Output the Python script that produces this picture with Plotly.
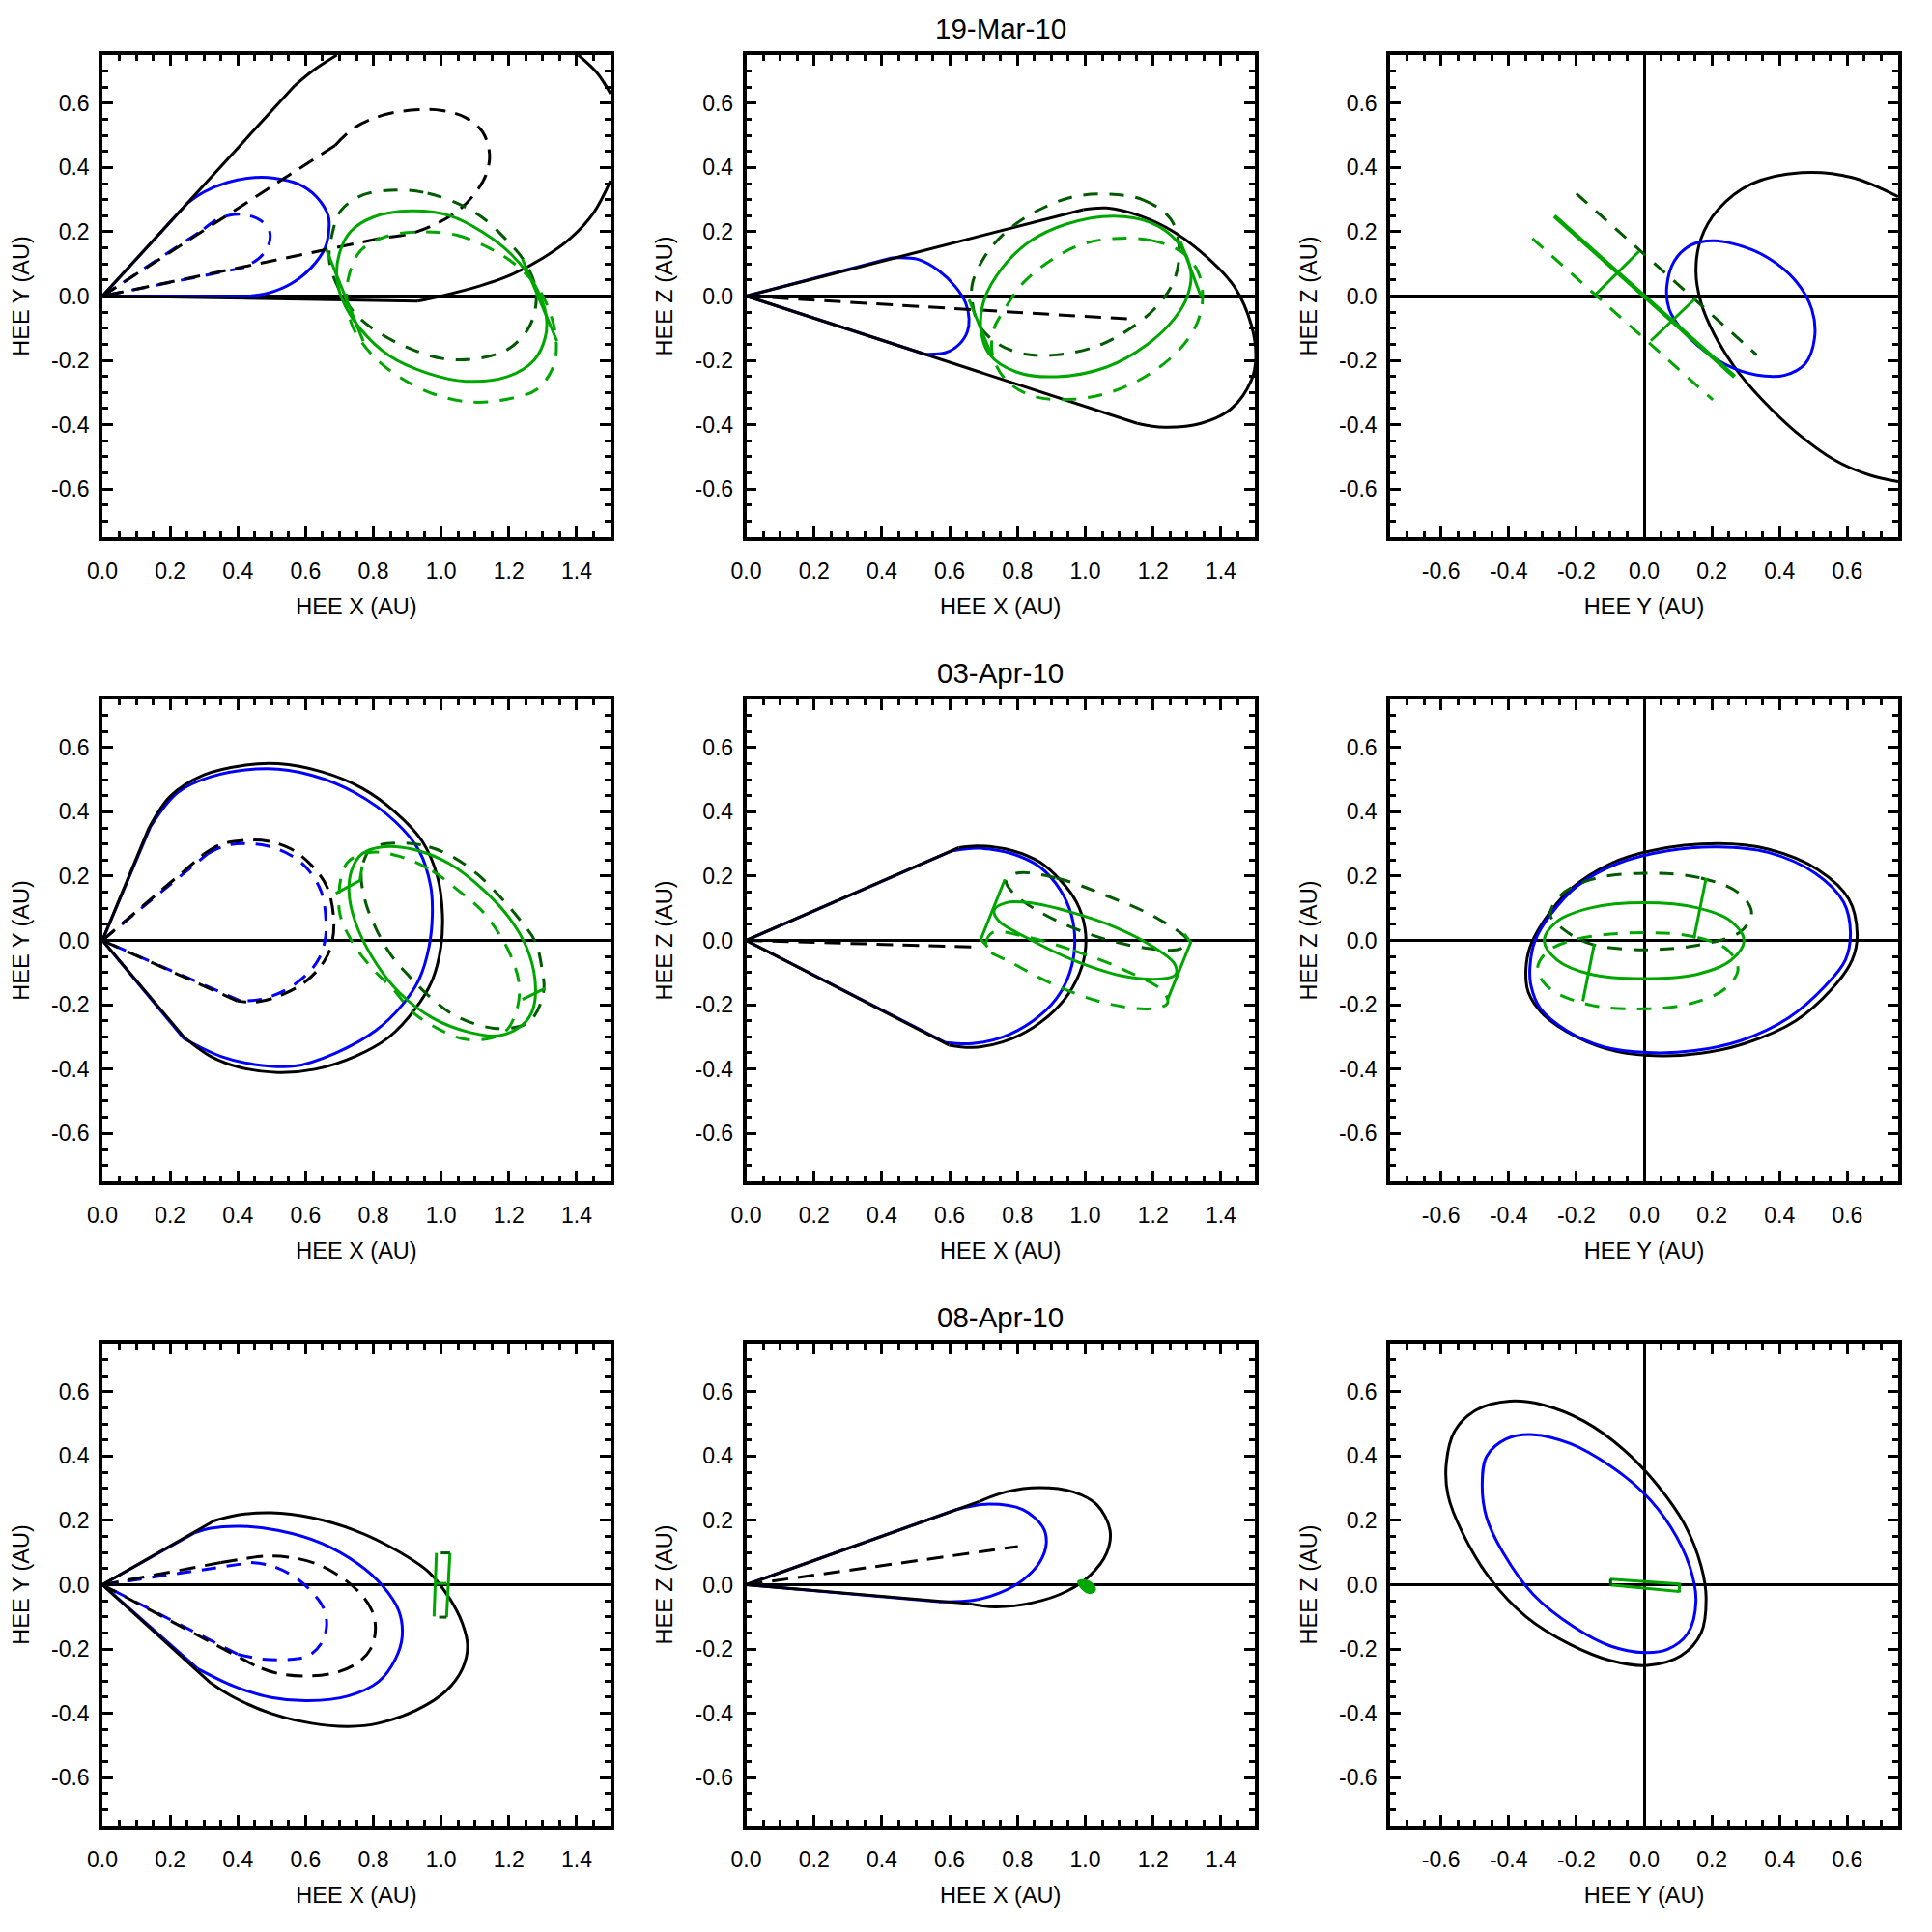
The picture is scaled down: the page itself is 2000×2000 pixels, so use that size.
import plotly.graph_objects as go

# ---------------- tick labels ----------------
x_pos_ticks = [0.0, 0.2, 0.4, 0.6, 0.8, 1.0, 1.2, 1.4]
x_pos_labels = ["0.0", "0.2", "0.4", "0.6", "0.8", "1.0", "1.2", "1.4"]
sym_ticks = [-0.6, -0.4, -0.2, 0.0, 0.2, 0.4, 0.6]
sym_labels = ["-0.6", "-0.4", "-0.2", "0.0", "0.2", "0.4", "0.6"]
dates = ["19-Mar-10", "03-Apr-10", "08-Apr-10"]
xtitles = ["HEE X (AU)", "HEE X (AU)", "HEE Y (AU)"]
ytitles = ["HEE Y (AU)", "HEE Z (AU)", "HEE Z (AU)"]

# Cone outlines: straight flank from the Sun, None, cap arc, None, straight flank back.

# ---------------- panel 1 : 19-Mar-10, X-Y ----------------
p1_blk_x = [0, 0.568, None, 0.568, 0.622, 0.692, None, 1.405, 1.46, 1.5, None,
            1.5, 1.45, 1.381, 1.301, 1.212, 1.113, 1.004, 0.93, None, 0.93, 0]
p1_blk_y = [0, 0.655, None, 0.655, 0.702, 0.75, None, 0.75, 0.695, 0.63, None,
            0.359, 0.259, 0.179, 0.119, 0.069, 0.031, 0.001, -0.0155, None, -0.0155, 0]
p1_bdash_x = [0, 0.687, None, 0.687, 0.746, 0.835, 0.934, 1.004, 1.073, 1.123, 1.143, 1.133,
              1.103, 1.054, 0.984, 0.915, 0.845, 0.816, None, 0.816, 0]
p1_bdash_y = [0, 0.469, None, 0.469, 0.525, 0.565, 0.58, 0.577, 0.555, 0.51, 0.44, 0.379,
              0.324, 0.269, 0.224, 0.196, 0.183, 0.179, None, 0.179, 0]
p1_blue_x = [0, 0.251, None, 0.251, 0.30, 0.37, 0.449, 0.508, 0.578, 0.632, 0.667, 0.669,
             0.657, 0.617, 0.558, 0.489, 0.429, None, 0.429, 0]
p1_blue_y = [0, 0.289, None, 0.289, 0.324, 0.354, 0.369, 0.367, 0.349, 0.309, 0.249, 0.209,
             0.149, 0.089, 0.039, 0.009, -0.001, None, -0.001, 0]
p1_bldash_x = [0, 0.300, None, 0.300, 0.340, 0.389, 0.429, 0.469, 0.494, 0.489, 0.464, 0.419, None, 0.419, 0]
p1_bldash_y = [0, 0.209, None, 0.209, 0.239, 0.254, 0.252, 0.234, 0.199, 0.154, 0.119, 0.089, None, 0.089, 0]
p1_grn_x = [0.912, 1.026, 1.121, 1.207, 1.274, 1.310, 1.307, 1.274, 1.198, 1.074, 0.960,
            0.846, 0.760, 0.708, 0.692, 0.699, 0.732, 0.798, 0.912]
p1_grn_y = [0.265, 0.250, 0.200, 0.130, 0.040, -0.060, -0.130, -0.200, -0.250, -0.265, -0.240,
            -0.185, -0.100, -0.010, 0.060, 0.130, 0.200, 0.245, 0.265]
p1_dkg_x = [0.874, 0.960, 1.055, 1.121, 1.188, 1.245, 1.278, 1.278, 1.255, 1.198, 1.103, 1.007,
            0.912, 0.818, 0.751, 0.699, 0.670, 0.680, 0.703, 0.770, 0.874]
p1_dkg_y = [0.330, 0.320, 0.285, 0.245, 0.180, 0.110, 0.030, -0.040, -0.105, -0.165, -0.195, -0.195,
            -0.165, -0.115, -0.060, 0.020, 0.110, 0.200, 0.265, 0.315, 0.330]
p1_ltg_x = [0.941, 1.045, 1.141, 1.217, 1.283, 1.321, 1.340, 1.331, 1.283, 1.198, 1.093, 0.979,
            0.874, 0.798, 0.741, 0.722, 0.727, 0.761, 0.836, 0.941]
p1_ltg_y = [0.200, 0.190, 0.150, 0.100, 0.030, -0.050, -0.140, -0.220, -0.290, -0.320, -0.330, -0.305,
            -0.250, -0.185, -0.100, -0.020, 0.060, 0.140, 0.185, 0.200]
p1_conn_x = [0.661, 0.770, None, 1.24, 1.342]
p1_conn_y = [0.145, -0.14, None, 0.115, -0.14]

# ---------------- panel 2 : 19-Mar-10, X-Z ----------------
p2_blk_x = [0, 0.994, None, 0.994, 1.063, 1.163, 1.262, 1.361, 1.440, 1.49, 1.503, 1.49, 1.43,
            1.341, 1.232, 1.153, None, 1.153, 0]
p2_blk_y = [0, 0.269, None, 0.269, 0.274, 0.249, 0.199, 0.119, 0.029, -0.091, -0.19, -0.261, -0.351,
            -0.396, -0.408, -0.396, None, -0.396, 0]
p2_bdash_x = [0, 1.123]
p2_bdash_y = [0, -0.071]
p2_blue_x = [0, 0.429, None, 0.429, 0.508, 0.568, 0.617, 0.647, 0.657, 0.652, 0.627, 0.588, 0.528, None, 0.528, 0]
p2_blue_y = [0, 0.119, None, 0.119, 0.114, 0.079, 0.029, -0.021, -0.071, -0.111, -0.151, -0.176, -0.181, None, -0.181, 0]
p2_grn_x = [1.083, 1.192, 1.272, 1.311, 1.301, 1.262, 1.182, 1.063, 0.915, 0.796, 0.717, 0.692,
            0.702, 0.756, 0.835, 0.944, 1.083]
p2_grn_y = [0.249, 0.229, 0.169, 0.079, -0.001, -0.071, -0.151, -0.221, -0.251, -0.236, -0.181, -0.101,
            -0.011, 0.089, 0.169, 0.224, 0.249]
p2_dkg_x = [1.073, 1.172, 1.252, 1.277, 1.262, 1.212, 1.133, 1.034, 0.915, 0.826, 0.746, 0.687,
            0.667, 0.667, 0.707, 0.776, 0.865, 0.964, 1.073]
p2_dkg_y = [0.317, 0.299, 0.239, 0.149, 0.049, -0.031, -0.101, -0.156, -0.183, -0.181, -0.151, -0.091,
            -0.021, 0.039, 0.129, 0.209, 0.269, 0.309, 0.317]
p2_ltg_x = [1.083, 1.192, 1.282, 1.331, 1.346, 1.331, 1.282, 1.192, 1.083, 0.964, 0.845, 0.766,
            0.726, 0.731, 0.756, 0.815, 0.895, 0.984, 1.083]
p2_ltg_y = [0.179, 0.174, 0.139, 0.079, -0.001, -0.081, -0.161, -0.241, -0.296, -0.321, -0.311, -0.261,
            -0.181, -0.101, -0.051, 0.039, 0.109, 0.159, 0.179]
p2_conn_x = [0.657, 0.726, None, 1.281, 1.341]
p2_conn_y = [-0.011, -0.191, None, 0.169, -0.001]

# ---------------- panel 3 : 19-Mar-10, Y-Z ----------------
p3_blk_x = [0.75, 0.614, 0.465, 0.317, 0.218, 0.168, 0.153, 0.168, 0.208, 0.267, 0.347, 0.446,
            0.564, 0.663, 0.75]
p3_blk_y = [0.309, 0.369, 0.384, 0.349, 0.269, 0.179, 0.079, -0.021, -0.121, -0.221, -0.321, -0.421,
            -0.511, -0.556, -0.577]
p3_blue_x = [0.203, 0.277, 0.366, 0.446, 0.495, 0.503, 0.475, 0.416, 0.356, 0.267, 0.178, 0.109,
             0.074, 0.067, 0.089, 0.139, 0.203]
p3_blue_y = [0.172, 0.159, 0.119, 0.049, -0.041, -0.131, -0.211, -0.246, -0.249, -0.226, -0.171, -0.101,
             -0.041, 0.029, 0.109, 0.159, 0.172]
p3_grn_x = [-0.265, 0.267]
p3_grn_y = [0.249, -0.251]
p3_dkg_x = [-0.2, 0.332]
p3_dkg_y = [0.319, -0.183]
p3_ltg_x = [-0.33, 0.203]
p3_ltg_y = [0.179, -0.323]
p3_conn_x = [-0.144, -0.015, None, 0.020, 0.153]
p3_conn_y = [0.004, 0.139, None, -0.139, -0.006]

# ---------------- panel 4 : 03-Apr-10, X-Y ----------------
p4_blk_x = [0, 0.137, None, 0.137, 0.201, 0.3, 0.419, 0.518, 0.647, 0.766, 0.865, 0.944, 0.989, 1.004,
            0.999, 0.975, 0.925, 0.846, 0.746, 0.627, 0.518, 0.409, 0.320, 0.241, None, 0.241, 0]
p4_blk_y = [0, 0.349, None, 0.349, 0.449, 0.515, 0.545, 0.550, 0.525, 0.474, 0.399, 0.309, 0.199, 0.079,
            -0.021, -0.121, -0.211, -0.301, -0.361, -0.401, -0.411, -0.396, -0.361, -0.301, None, -0.301, 0]
p4_blue_x = [0, 0.142, None, 0.142, 0.221, 0.32, 0.488, 0.617, 0.746, 0.865, 0.935, 0.969, 0.974, 0.964,
             0.935, 0.885, 0.806, 0.687, 0.568, 0.449, 0.350, 0.241, None, 0.241, 0]
p4_blue_y = [0, 0.354, None, 0.354, 0.459, 0.509, 0.534, 0.514, 0.459, 0.369, 0.279, 0.169, 0.079, -0.021,
             -0.121, -0.201, -0.281, -0.351, -0.391, -0.386, -0.361, -0.306, None, -0.306, 0]
p4_bdash_x = [0, 0.300, None, 0.300, 0.35, 0.419, 0.488, 0.558, 0.617, 0.662, 0.682, 0.679, 0.657, 0.608,
              0.538, 0.459, 0.399, None, 0.399, 0]
p4_bdash_y = [0, 0.269, None, 0.269, 0.299, 0.311, 0.309, 0.284, 0.234, 0.169, 0.079, -0.001, -0.061, -0.121,
              -0.166, -0.191, -0.189, None, -0.189, 0]
p4_bldash_x = [0, 0.310, None, 0.310, 0.36, 0.419, 0.488, 0.558, 0.608, 0.647, 0.660, 0.657, 0.637, 0.598,
               0.538, 0.469, 0.409, None, 0.409, 0]
p4_bldash_y = [0, 0.269, None, 0.269, 0.294, 0.301, 0.294, 0.264, 0.219, 0.149, 0.059, -0.001, -0.061, -0.111,
               -0.156, -0.183, -0.189, None, -0.189, 0]
p4_grn_x = [0.826, 0.915, 1.024, 1.123, 1.202, 1.252, 1.277, 1.272, 1.242, 1.172, 1.083, 0.974,
            0.875, 0.796, 0.746, 0.728, 0.736, 0.766, 0.826]
p4_grn_y = [0.291, 0.284, 0.239, 0.159, 0.069, -0.021, -0.121, -0.211, -0.261, -0.296, -0.286, -0.241,
            -0.161, -0.051, 0.059, 0.149, 0.219, 0.269, 0.291]
p4_dkg_x = [0.879, 0.965, 1.041, 1.107, 1.174, 1.231, 1.278, 1.297, 1.302, 1.259, 1.164, 1.041,
            0.965, 0.908, 0.851, 0.808, 0.775, 0.765, 0.794, 0.879]
p4_dkg_y = [0.303, 0.291, 0.256, 0.206, 0.136, 0.066, -0.004, -0.084, -0.164, -0.254, -0.274, -0.234,
            -0.174, -0.114, -0.044, 0.036, 0.126, 0.216, 0.286, 0.303]
p4_ltg_x = [0.879, 0.974, 1.050, 1.117, 1.174, 1.212, 1.231, 1.221, 1.183, 1.079, 0.993, 0.917,
            0.860, 0.794, 0.737, 0.699, 0.722, 0.794, 0.879]
p4_ltg_y = [0.261, 0.216, 0.156, 0.096, 0.016, -0.064, -0.144, -0.224, -0.289, -0.309, -0.276, -0.224,
            -0.154, -0.084, -0.004, 0.096, 0.241, 0.274, 0.261]
p4_conn_x = [0.689, 0.760, 0.767, None, 1.240, 1.307]
p4_conn_y = [0.146, 0.186, 0.231, None, -0.184, -0.149]

# ---------------- panel 5 : 03-Apr-10, X-Z ----------------
p5_blk_x = [0, 0.627, None, 0.627, 0.687, 0.786, 0.865, 0.925, 0.974, 0.999, 0.999, 0.975, 0.925, 0.846,
            0.756, 0.667, 0.598, None, 0.598, 0]
p5_blk_y = [0, 0.289, None, 0.289, 0.294, 0.279, 0.244, 0.189, 0.119, 0.039, -0.041, -0.121, -0.201, -0.271,
            -0.316, -0.333, -0.326, None, -0.326, 0]
p5_blue_x = [0, 0.608, None, 0.608, 0.687, 0.786, 0.865, 0.925, 0.959, 0.969, 0.954, 0.915, 0.845, 0.756,
             0.667, 0.588, None, 0.588, 0]
p5_blue_y = [0, 0.279, None, 0.279, 0.287, 0.269, 0.229, 0.159, 0.079, -0.011, -0.101, -0.181, -0.251, -0.301,
             -0.321, -0.318, None, -0.318, 0]
p5_bdash_x = [0, 0.687]
p5_bdash_y = [0, -0.021]
p5_grn_x = [0.835, 0.954, 1.093, 1.202, 1.262, 1.267, 1.232, 1.113, 0.964, 0.826, 0.746, 0.731,
            0.766, 0.835]
p5_grn_y = [0.117, 0.089, 0.039, -0.021, -0.071, -0.106, -0.119, -0.111, -0.061, 0.009, 0.059, 0.094,
            0.117, 0.117]
p5_dkg_x = [0.796, 0.915, 1.063, 1.212, 1.301, 1.281, 1.163, 1.014, 0.865, 0.786, 0.766, 0.796]
p5_dkg_y = [0.209, 0.194, 0.139, 0.069, -0.001, -0.026, -0.021, 0.019, 0.089, 0.149, 0.184, 0.209]
p5_ltg_x = [0.815, 0.964, 1.113, 1.232, 1.242, 1.192, 1.063, 0.915, 0.786, 0.707, 0.726, 0.815]
p5_ltg_y = [0.014, -0.031, -0.091, -0.161, -0.196, -0.213, -0.196, -0.141, -0.071, -0.021, 0.024, 0.014]
p5_conn_x = [0.763, 0.692, 0.712, None, 1.292, 1.311, 1.242]
p5_conn_y = [0.19, 0.004, -0.02, None, 0.02, -0.006, -0.186]

# ---------------- panel 6 : 03-Apr-10, Y-Z ----------------
p6_blk_x = [0.218, 0.366, 0.515, 0.604, 0.629, 0.614, 0.554, 0.446, 0.297, 0.168, 0.05, -0.079,
            -0.198, -0.297, -0.342, -0.349, -0.337, -0.297, -0.218, -0.099, 0.020, 0.218]
p6_blk_y = [0.301, 0.284, 0.219, 0.129, 0.019, -0.061, -0.151, -0.251, -0.321, -0.351, -0.359, -0.346,
            -0.301, -0.231, -0.161, -0.091, -0.021, 0.059, 0.159, 0.239, 0.279, 0.301]
p6_blue_x = [0.218, 0.366, 0.505, 0.589, 0.609, 0.594, 0.535, 0.426, 0.287, 0.149, 0.01, -0.119,
             -0.228, -0.307, -0.334, -0.337, -0.322, -0.277, -0.198, -0.079, 0.069, 0.218]
p6_blue_y = [0.291, 0.274, 0.209, 0.119, 0.024, -0.061, -0.141, -0.241, -0.311, -0.343, -0.349, -0.331,
             -0.281, -0.211, -0.141, -0.081, -0.001, 0.079, 0.169, 0.239, 0.279, 0.291]
p6_grn_x = [0, 0.158, 0.257, 0.295, 0.257, 0.158, 0, -0.158, -0.257, -0.295, -0.257, -0.158, 0]
p6_grn_y = [0.117, 0.101, 0.059, -0.001, -0.061, -0.105, -0.119, -0.105, -0.061, -0.001, 0.059, 0.101, 0.117]
p6_dkg_x = [0, 0.168, 0.277, 0.317, 0.287, 0.178, 0, -0.158, -0.238, -0.277, -0.248, -0.158, 0]
p6_dkg_y = [0.209, 0.194, 0.149, 0.089, 0.029, -0.011, -0.029, -0.011, 0.034, 0.079, 0.139, 0.189, 0.209]
p6_ltg_x = [0, 0.158, 0.248, 0.277, 0.238, 0.139, 0, -0.158, -0.277, -0.315, -0.287, -0.198, 0]
p6_ltg_y = [0.024, 0.009, -0.031, -0.091, -0.151, -0.196, -0.213, -0.201, -0.151, -0.091, -0.036, 0.004, 0.024]
p6_conn_x = [0.183, 0.147, None, -0.147, -0.181]
p6_conn_y = [0.194, 0.006, None, -0.011, -0.189]

# ---------------- panel 7 : 08-Apr-10, X-Y ----------------
p7_blk_x = [0, 0.330, None, 0.330, 0.4, 0.498, 0.617, 0.746, 0.865, 0.964, 1.024, 1.063, 1.078, 1.063,
            1.014, 0.925, 0.815, 0.726, 0.617, 0.499, 0.389, 0.32, None, 0.32, 0]
p7_blk_y = [0, 0.199, None, 0.199, 0.217, 0.224, 0.209, 0.169, 0.109, 0.039, -0.041, -0.121, -0.191, -0.261,
            -0.331, -0.391, -0.431, -0.441, -0.431, -0.401, -0.351, -0.306, None, -0.306, 0]
p7_blue_x = [0, 0.271, None, 0.271, 0.32, 0.409, 0.518, 0.647, 0.756, 0.825, 0.875, 0.885, 0.865, 0.816,
             0.726, 0.608, 0.499, 0.389, 0.281, None, 0.281, 0]
p7_blue_y = [0, 0.161, None, 0.161, 0.176, 0.182, 0.169, 0.129, 0.064, -0.001, -0.081, -0.161, -0.231, -0.301,
             -0.346, -0.361, -0.351, -0.316, -0.261, None, -0.261, 0]
p7_bdash_x = [0, 0.350, None, 0.350, 0.419, 0.479, 0.548, 0.627, 0.697, 0.756, 0.796, 0.806, 0.791, 0.756,
              0.697, 0.608, 0.518, 0.449, None, 0.449, 0]
p7_bdash_y = [0, 0.069, None, 0.069, 0.081, 0.089, 0.086, 0.067, 0.029, -0.021, -0.081, -0.141, -0.201, -0.241,
              -0.271, -0.284, -0.276, -0.251, None, -0.251, 0]
p7_bldash_x = [0, 0.439, None, 0.439, 0.499, 0.568, 0.617, 0.652, 0.662, 0.647, 0.608, 0.548, 0.469, 0.399,
               None, 0.399, 0]
p7_bldash_y = [0, 0.069, None, 0.069, 0.059, 0.024, -0.021, -0.071, -0.126, -0.181, -0.221, -0.233, -0.231,
               -0.216, None, -0.216, 0]
p7_ltg_x = [0.986, 0.979, None, 1.026, 1.016, None, 0.982, 1.016]
p7_ltg_y = [0.099, -0.099, None, 0.099, -0.101, None, 0.004, 0.004]
p7_dkg_x = [0.999, 1.026, None, 0.994, 1.016]
p7_dkg_y = [0.099, 0.099, None, -0.101, -0.101]

# ---------------- panel 8 : 08-Apr-10, X-Z ----------------
p8_blk_x = [0, 0.687, None, 0.687, 0.766, 0.865, 0.964, 1.034, 1.073, 1.063, 1.014, 0.944, 0.845, 0.736,
            0.657, None, 0.657, 0]
p8_blk_y = [0, 0.259, None, 0.259, 0.289, 0.302, 0.289, 0.249, 0.169, 0.099, 0.029, -0.021, -0.056, -0.069,
            -0.059, None, -0.059, 0]
p8_blue_x = [0, 0.617, None, 0.617, 0.716, 0.815, 0.875, 0.885, 0.865, 0.815, 0.746, 0.667, 0.568, None, 0.568, 0]
p8_blue_y = [0, 0.233, None, 0.233, 0.251, 0.234, 0.179, 0.129, 0.069, 0.014, -0.026, -0.049, -0.053, None,
             -0.053, 0]
p8_bdash_x = [0, 0.801]
p8_bdash_y = [0, 0.119]
p8_grn_x = [0.979, 0.994, 1.019, 1.029, 1.014, 0.994, 0.979]
p8_grn_y = [0.009, 0.014, 0.004, -0.016, -0.026, -0.016, 0.009]

# ---------------- panel 9 : 08-Apr-10, Y-Z ----------------
p9_blk_x = [-0.396, -0.297, -0.178, -0.059, 0.040, 0.119, 0.168, 0.183, 0.168, 0.109, 0.010, -0.099,
            -0.218, -0.347, -0.455, -0.535, -0.579, -0.584, -0.559, -0.495, -0.396]
p9_blk_y = [0.571, 0.559, 0.509, 0.419, 0.309, 0.189, 0.059, -0.041, -0.151, -0.221, -0.251, -0.236,
            -0.186, -0.101, 0.019, 0.159, 0.279, 0.379, 0.479, 0.544, 0.571]
p9_blue_x = [-0.327, -0.218, -0.099, 0, 0.079, 0.134, 0.153, 0.129, 0.069, 0, -0.099, -0.208, -0.327,
             -0.416, -0.465, -0.478, -0.465, -0.406, -0.327]
p9_blue_y = [0.467, 0.439, 0.369, 0.284, 0.179, 0.059, -0.051, -0.151, -0.201, -0.211, -0.191, -0.131,
             -0.031, 0.099, 0.209, 0.309, 0.399, 0.454, 0.467]
p9_ltg_x = [-0.099, 0.104, None, -0.099, 0.104, None, 0.104, 0.104]
p9_ltg_y = [0.017, 0.002, None, -0.001, -0.021, None, 0.006, -0.024]
p9_dkg_x = [-0.099, -0.099]
p9_dkg_y = [0.018, -0.003]

# ---------------- styling ----------------
FONT = "Liberation Sans, Arial, Helvetica, sans-serif"
BLACK = "#000000"
BLUE = "#0000ff"
GREEN = "#00a600"
DKGREEN = "#005a00"
LW = 3.0
DASH_BLK = "17px,10px"
DASH_BLU = "15px,11px"
DASH_GRN = "15px,12px"

col_dom = [(0.049, 0.312), (0.38225, 0.6455), (0.7155, 0.9785)]
row_dom = [(0.726, 0.9755), (0.3925, 0.642), (0.059, 0.3085)]
date_y = [0.9893, 0.6558, 0.3223]

fig = go.Figure()


def add(panel, xs, ys, color, dash="solid", width=LW, shape="spline", fill=None):
    sfx = "" if panel == 1 else str(panel)
    fig.add_trace(go.Scatter(
        x=xs, y=ys, mode="lines",
        line=dict(color=color, width=width, dash=dash, shape=shape, smoothing=1.0),
        xaxis="x" + sfx, yaxis="y" + sfx, showlegend=False, hoverinfo="skip",
        connectgaps=False, fill=fill, fillcolor=(color if fill else None)))


# panel 1
add(1, p1_bldash_x, p1_bldash_y, BLUE, DASH_BLU)
add(1, p1_blue_x, p1_blue_y, BLUE)
add(1, p1_bdash_x, p1_bdash_y, BLACK, DASH_BLK)
add(1, p1_blk_x, p1_blk_y, BLACK)
add(1, p1_dkg_x, p1_dkg_y, DKGREEN, DASH_GRN)
add(1, p1_ltg_x, p1_ltg_y, GREEN, DASH_GRN)
add(1, p1_grn_x, p1_grn_y, GREEN)
add(1, p1_conn_x, p1_conn_y, GREEN, shape="linear")
# panel 2
add(2, p2_blue_x, p2_blue_y, BLUE)
add(2, p2_bdash_x, p2_bdash_y, BLACK, DASH_BLK, shape="linear")
add(2, p2_blk_x, p2_blk_y, BLACK)
add(2, p2_dkg_x, p2_dkg_y, DKGREEN, DASH_GRN)
add(2, p2_ltg_x, p2_ltg_y, GREEN, DASH_GRN)
add(2, p2_grn_x, p2_grn_y, GREEN)
add(2, p2_conn_x, p2_conn_y, GREEN, shape="linear")
# panel 3
add(3, p3_blk_x, p3_blk_y, BLACK)
add(3, p3_blue_x, p3_blue_y, BLUE)
add(3, p3_dkg_x, p3_dkg_y, DKGREEN, DASH_GRN, shape="linear")
add(3, p3_ltg_x, p3_ltg_y, GREEN, DASH_GRN, shape="linear")
add(3, p3_grn_x, p3_grn_y, GREEN, width=4.5, shape="linear")
add(3, p3_conn_x, p3_conn_y, GREEN, shape="linear")
# panel 4
add(4, p4_bldash_x, p4_bldash_y, BLUE, DASH_BLU)
add(4, p4_blue_x, p4_blue_y, BLUE)
add(4, p4_bdash_x, p4_bdash_y, BLACK, DASH_BLK)
add(4, p4_blk_x, p4_blk_y, BLACK)
add(4, p4_dkg_x, p4_dkg_y, DKGREEN, DASH_GRN)
add(4, p4_ltg_x, p4_ltg_y, GREEN, DASH_GRN)
add(4, p4_grn_x, p4_grn_y, GREEN)
add(4, p4_conn_x, p4_conn_y, GREEN, shape="linear")
# panel 5
add(5, p5_blue_x, p5_blue_y, BLUE)
add(5, p5_bdash_x, p5_bdash_y, BLACK, DASH_BLK, shape="linear")
add(5, p5_blk_x, p5_blk_y, BLACK)
add(5, p5_dkg_x, p5_dkg_y, DKGREEN, DASH_GRN)
add(5, p5_ltg_x, p5_ltg_y, GREEN, DASH_GRN)
add(5, p5_grn_x, p5_grn_y, GREEN)
add(5, p5_conn_x, p5_conn_y, GREEN, shape="linear")
# panel 6
add(6, p6_blk_x, p6_blk_y, BLACK)
add(6, p6_blue_x, p6_blue_y, BLUE)
add(6, p6_dkg_x, p6_dkg_y, DKGREEN, DASH_GRN)
add(6, p6_ltg_x, p6_ltg_y, GREEN, DASH_GRN)
add(6, p6_grn_x, p6_grn_y, GREEN)
add(6, p6_conn_x, p6_conn_y, GREEN, shape="linear")
# panel 7
add(7, p7_bldash_x, p7_bldash_y, BLUE, DASH_BLU)
add(7, p7_blue_x, p7_blue_y, BLUE)
add(7, p7_bdash_x, p7_bdash_y, BLACK, DASH_BLK)
add(7, p7_blk_x, p7_blk_y, BLACK)
add(7, p7_ltg_x, p7_ltg_y, GREEN, shape="linear")
add(7, p7_dkg_x, p7_dkg_y, DKGREEN, shape="linear")
# panel 8
add(8, p8_blue_x, p8_blue_y, BLUE)
add(8, p8_bdash_x, p8_bdash_y, BLACK, DASH_BLK, shape="linear")
add(8, p8_blk_x, p8_blk_y, BLACK)
add(8, p8_grn_x, p8_grn_y, GREEN, width=2, fill="toself")
# panel 9
add(9, p9_blk_x, p9_blk_y, BLACK)
add(9, p9_blue_x, p9_blue_y, BLUE)
add(9, p9_ltg_x, p9_ltg_y, GREEN, shape="linear")
add(9, p9_dkg_x, p9_dkg_y, DKGREEN, shape="linear")


def base_axis(is_x, col):
    if is_x and col < 2:
        rng, tv, tt = [0, 1.5], x_pos_ticks, x_pos_labels
    else:
        rng, tv, tt = [-0.75, 0.75], sym_ticks, sym_labels
    zl = not (is_x and col < 2)
    return dict(
        range=rng, tickmode="array", tickvals=tv, ticktext=tt, automargin=False,
        showline=True, linecolor=BLACK, linewidth=3.5, mirror="allticks",
        ticks="inside", ticklen=11, tickwidth=3, tickcolor=BLACK,
        showgrid=False, zeroline=zl, zerolinecolor=BLACK, zerolinewidth=3,
        tickfont=dict(family=FONT, size=23, color=BLACK),
        minor=dict(ticks="inside", ticklen=6, tickwidth=3, tickcolor=BLACK,
                   tickmode="linear", tick0=0, dtick=0.05, showgrid=False),
        fixedrange=True,
    )


layout_axes = {}
for r in range(3):
    for c in range(3):
        k = r * 3 + c + 1
        sfx = "" if k == 1 else str(k)
        xa = base_axis(True, c)
        xa.update(domain=list(col_dom[c]), anchor="y" + sfx,
                  ticklabelstandoff=12,
                  title=dict(text=xtitles[c], font=dict(family=FONT, size=23.5, color=BLACK), standoff=17))
        ya = base_axis(False, c)
        ya.update(domain=list(row_dom[r]), anchor="x" + sfx,
                  ticklabelstandoff=5,
                  title=dict(text=ytitles[c], font=dict(family=FONT, size=23.5, color=BLACK), standoff=17))
        layout_axes["xaxis" + sfx] = xa
        layout_axes["yaxis" + sfx] = ya

annotations = []
for r in range(3):
    annotations.append(dict(
        text=dates[r], xref="paper", yref="paper",
        x=(col_dom[1][0] + col_dom[1][1]) / 2, y=date_y[r],
        xanchor="center", yanchor="middle", showarrow=False,
        font=dict(family=FONT, size=29.5, color=BLACK)))

fig.update_layout(
    width=2000, height=2000,
    margin=dict(l=0, r=0, t=0, b=0),
    paper_bgcolor="white", plot_bgcolor="white",
    annotations=annotations,
    **layout_axes,
)

fig.write_html("out.html")
